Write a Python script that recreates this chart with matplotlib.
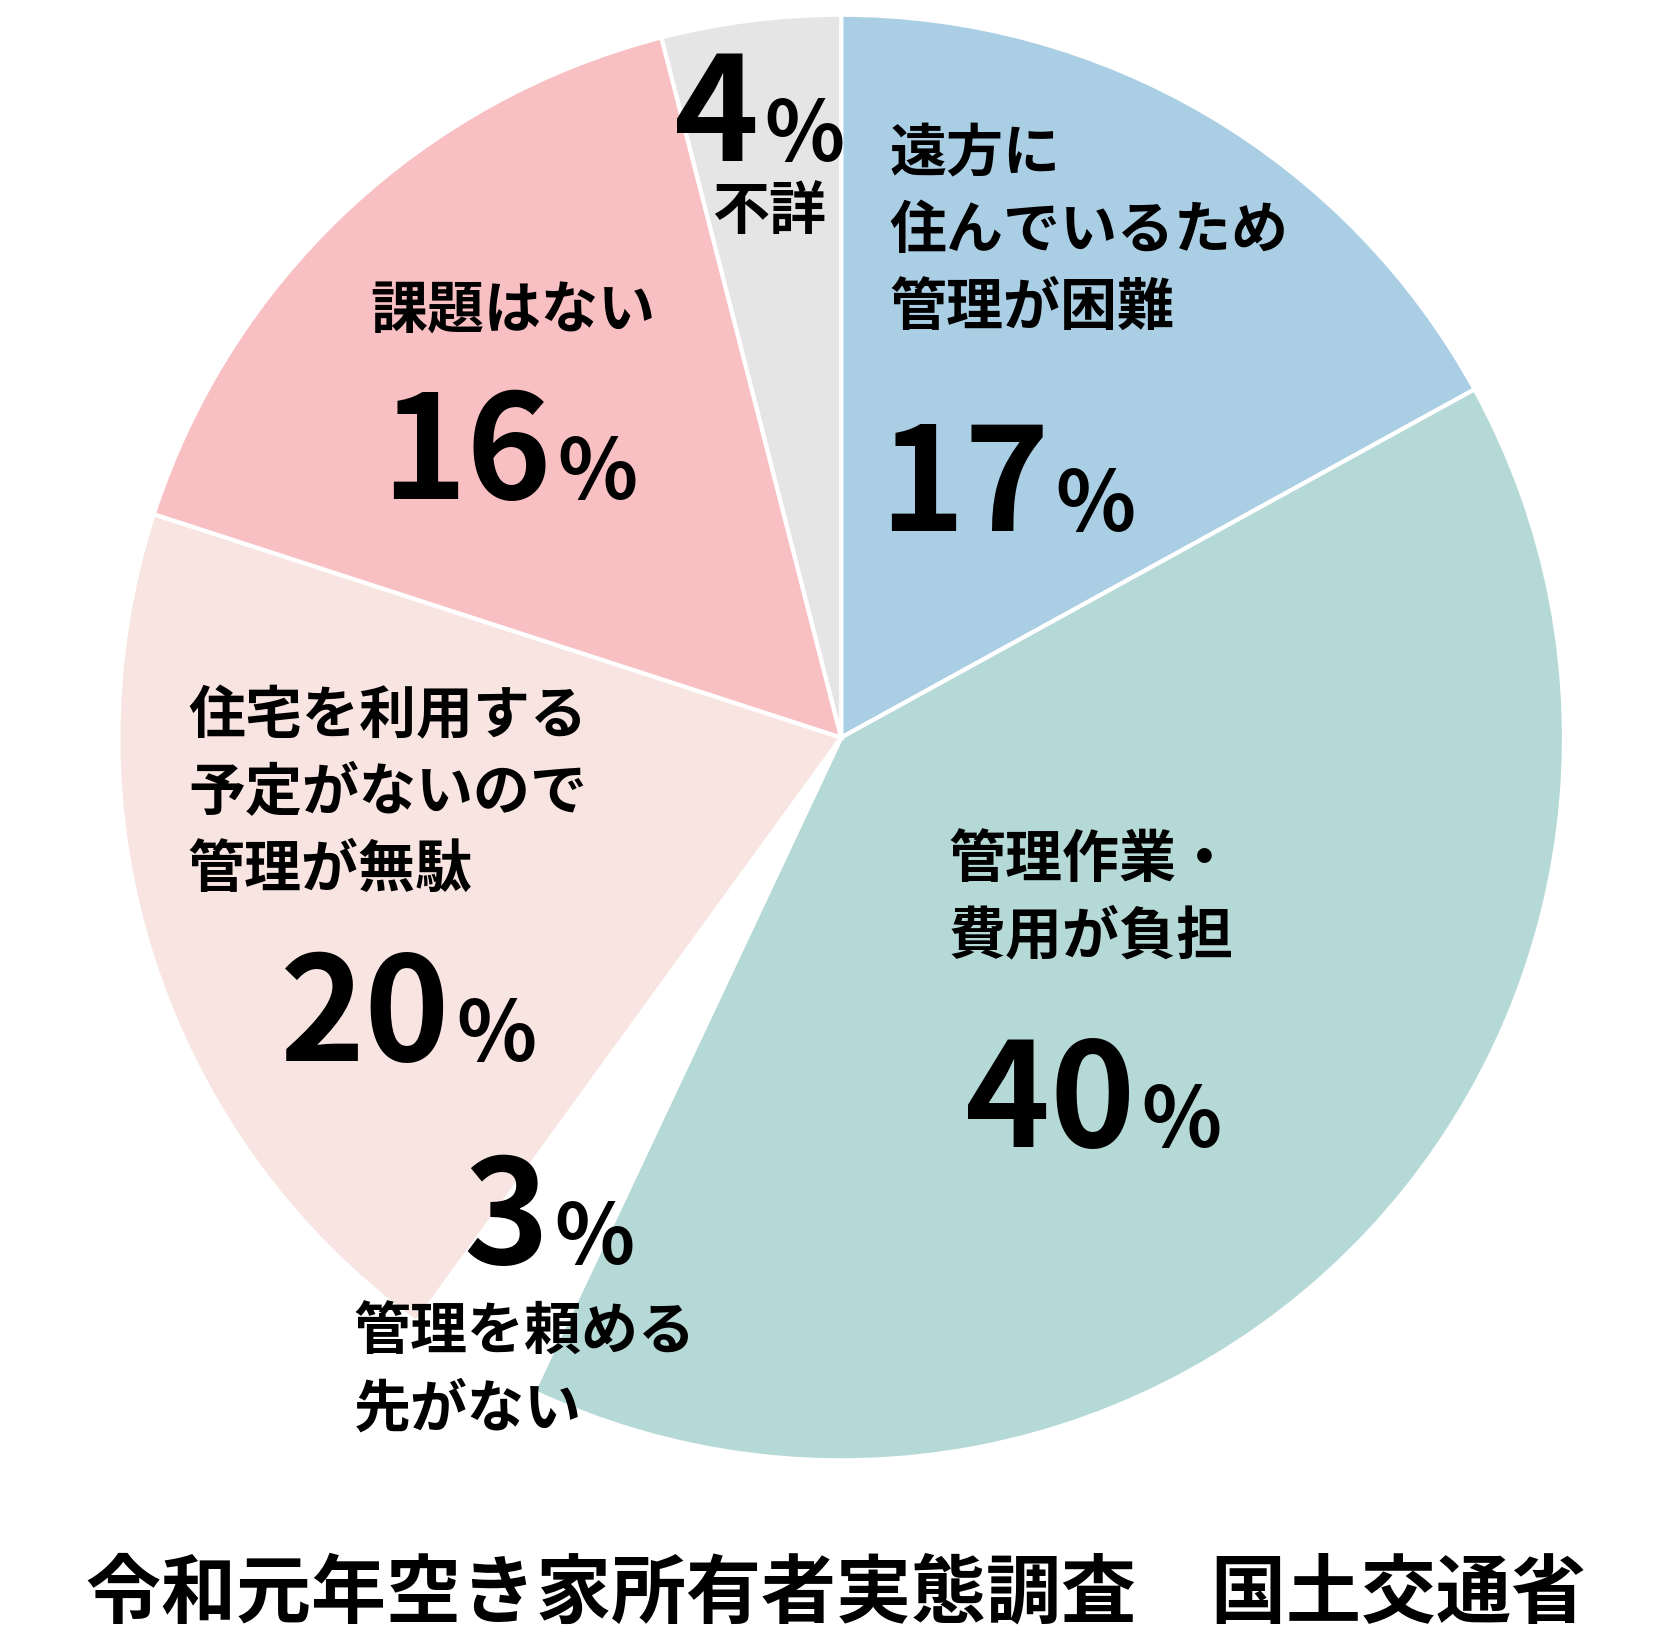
import matplotlib
matplotlib.use("Agg")
import matplotlib.pyplot as plt

plt.rcParams['font.family'] = ['Noto Sans CJK JP', 'DejaVu Sans']

labels = ["遠方に\n住んでいるため\n管理が困難", "管理作業・\n費用が負担", "管理を頼める\n先がない",
          "住宅を利用する\n予定がないので\n管理が無駄", "課題はない", "不詳"]
values = [17, 40, 3, 20, 16, 4]
colors = ["#aacfe4", "#b5d9d7", "#ffffff", "#f8e4e0", "#f9c0c4", "#e5e5e5"]
title = "令和元年空き家所有者実態調査　国土交通省"

fig = plt.figure(figsize=(16.72, 16.39), dpi=100)
ax = fig.add_axes([0.0706, 0.109, 0.865, 0.882])
ax.pie(values, colors=colors, startangle=90, counterclock=False,
       wedgeprops=dict(edgecolor="white", linewidth=3))
ax.set_xlim(-1, 1); ax.set_ylim(-1, 1); ax.set_aspect('equal')

def c(x, y):
    return (x - 785) / 675, (688 - y) / 675

lab = [((830, 215), 'left'), ((885, 838), 'left'), ((330, 1280), 'left'),
       ((175, 740), 'left'), ((478, 290), 'center'), ((718, 197), 'center')]
num = [(980, 495), (1060, 1070), (512, 1180), (420, 990), (515, 465), (708, 150)]

for i, v in enumerate(values):
    (lx, ly), ha = lab[i]
    x, y = c(lx, ly)
    ax.text(x, y, labels[i], ha=ha, va='center', fontsize=41, fontweight='bold',
            linespacing=1.4, multialignment='left')
    nx, ny = c(*num[i])
    ax.text(nx, ny, str(v), ha='right', va='baseline', fontsize=104, fontweight='bold')
    ax.text(nx + 0.008, ny, "%", ha='left', va='baseline', fontsize=60, fontweight='bold')

fig.text(0.5, 0.027, title, ha='center', va='center', fontsize=54, fontweight='bold')
fig.savefig("out.png", dpi=100, facecolor='white')
